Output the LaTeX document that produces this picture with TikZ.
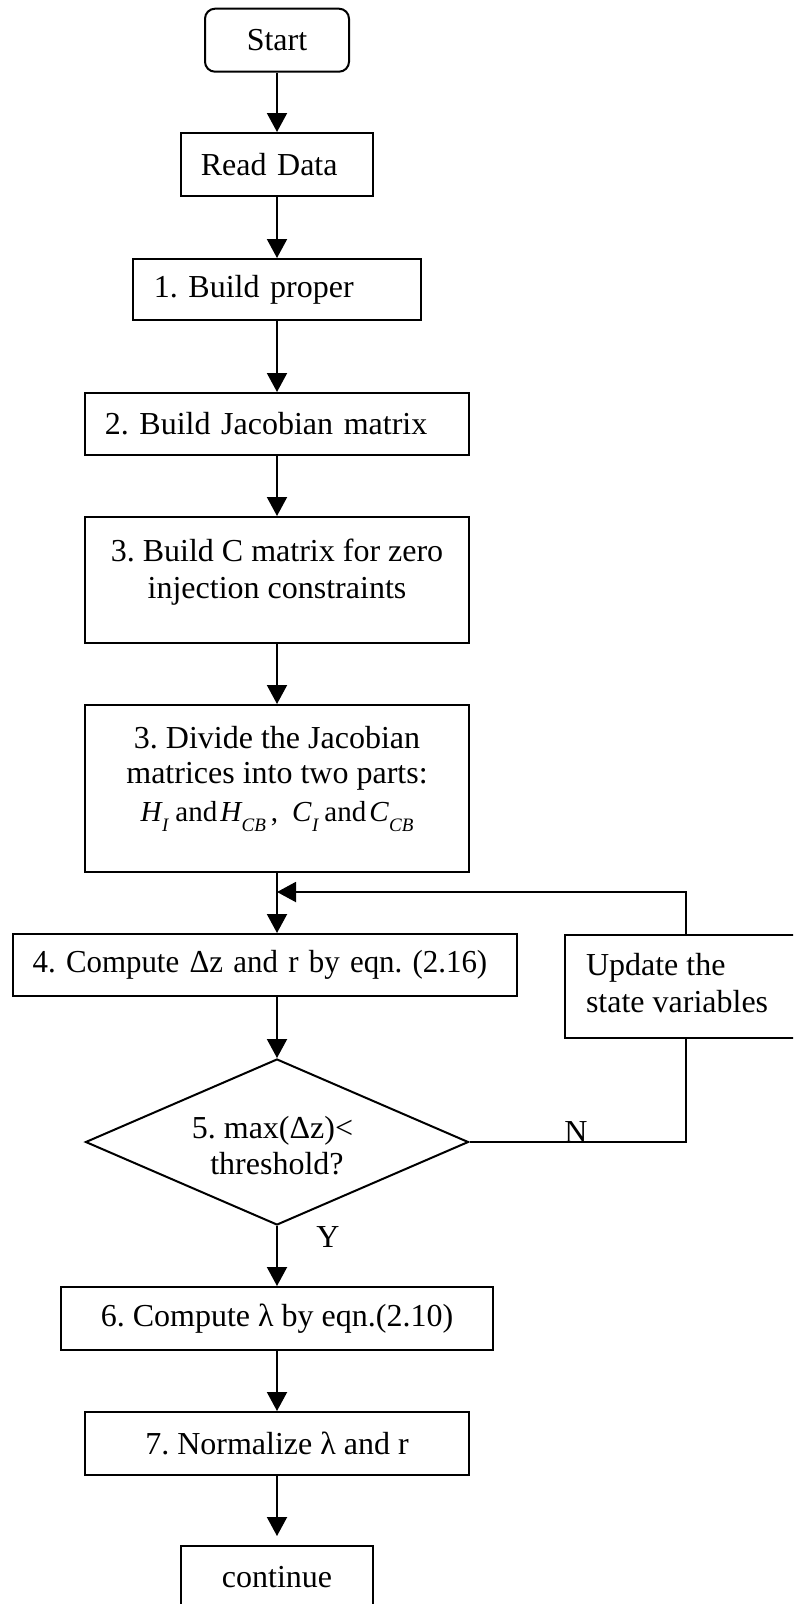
\documentclass[tikz,border=0pt]{standalone}
\usepackage{fontspec}
\setmainfont{Liberation Serif}
\usetikzlibrary{arrows.meta,shapes.geometric,calc}

% italic symbol with a lowered italic subscript
\newcommand{\subvar}[2]{{\itshape #1}\hspace{0.5pt}\raisebox{-10pt}{\fontsize{19}{19}\selectfont\itshape #2}}

\begin{document}
\frenchspacing
\begin{tikzpicture}[x=1pt,y=-1pt,
  font=\fontsize{32}{37}\selectfont\frenchspacing,
  line width=2pt,
  box/.style={draw, rectangle, line width=2pt, inner sep=0pt, align=center},
  lbox/.style={box, align=left, inner xsep=20pt},
  txt/.style={inner sep=0pt, align=center},
  flow/.style={-{Triangle[length=19pt,width=20pt]}},
  tag/.style={inner sep=0pt, anchor=base}]

\useasboundingbox (0,0) rectangle (793,1604);
\clip (0,0) rectangle (793,1604);

% main column of steps
\node[box, rounded corners=10pt, minimum width=144pt, minimum height=63pt] (start) at (277,40.2) {Start};
\node[lbox, text width=152.5pt, minimum width=192.5pt, minimum height=63pt] (read) at (277,164.5) {Read Data};
\node[lbox, inner xsep=21pt, text width=246.5pt, minimum width=288.5pt, minimum height=61pt] (proper) at (277,289.5) {1. Build proper};
\node[lbox, text width=344.5pt, minimum width=384.5pt, minimum height=62pt] (jac) at (277,424) {2. Build Jacobian matrix};

\node[box, minimum width=384.5pt, minimum height=126pt] (cmat) at (277,580) {};
\node[txt, anchor=north] (cmattext) at (277,537.5) {3. Build C matrix for zero\\injection constraints};

\node[box, minimum width=384.5pt, minimum height=167pt] (split) at (277,788.5) {};
\node[txt, anchor=north] (splittext) at (277,725) {3. Divide the Jacobian\\[-2pt]matrices into two parts:\\[1pt]{\fontsize{29}{37}\selectfont\subvar{H}{I}\hspace{7pt}and\hspace{3pt}\subvar{H}{CB}\hspace{5pt},\hspace{14pt}\subvar{C}{I}\hspace{6pt}and\hspace{3pt}\subvar{C}{CB}}};

\node[lbox, text width=464.4pt, minimum width=504.4pt, minimum height=62pt] (dz) at (264.8,965) {\scalebox{0.965}[1]{4. Compute Δz and r by eqn. (2.16)}};

\node[box, anchor=north west, minimum width=242pt, minimum height=103pt] (upd) at (564,934) {};
\node[txt, align=left, anchor=north west] (updtext) at (585,952) {Update the\\state variables};

\node[draw, diamond, aspect=2.3, inner sep=0pt, minimum width=383pt, minimum height=166pt] (test) at (277,1142) {};
\node[txt] (testtext) at (277,1146) {5. max(Δz)<\rule{9pt}{0pt}\\[-1pt]threshold?};

\node[box, minimum width=432.3pt, minimum height=63pt] (lam) at (277,1318.5) {6. Compute λ by eqn.(2.10)};
\node[box, minimum width=384.5pt, minimum height=63pt] (norm) at (277,1443.5) {7. Normalize λ and r};
\node[box, anchor=north, minimum width=192.5pt, minimum height=63pt] (cont) at (277,1545) {continue};

% connectors
\draw[flow] (start) -- (read);
\draw[flow] (read) -- (proper);
\draw[flow] (proper) -- (jac);
\draw[flow] (jac) -- (cmat);
\draw[flow] (cmat) -- (split);
\draw[flow] (split.south) -- (split.south |- dz.north);
\draw[flow] (split.south |- dz.south) -- (test.north);
\draw[flow] (test) -- (lam);
\draw[flow] (lam) -- (norm);
\draw[flow, shorten >=9pt] (norm) -- (cont);

% iteration loop
\coordinate (merge) at (277,892);
\draw (test.east) -| (upd.south);
\draw[flow] (upd.north) |- (merge);

\node[tag] (nlab) at (576,1142) {N};
\node[tag] (ylab) at (328,1247) {Y};
\end{tikzpicture}
\end{document}
